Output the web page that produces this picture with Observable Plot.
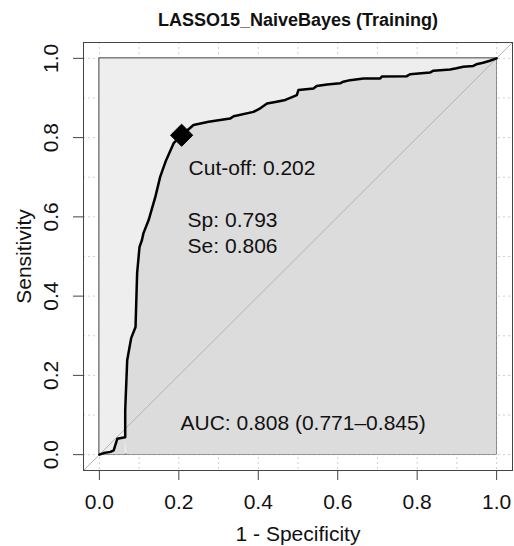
<!DOCTYPE html>
<html>
<head>
<meta charset="utf-8">
<script src="https://cdn.jsdelivr.net/npm/d3@7"></script>
<script src="https://cdn.jsdelivr.net/npm/@observablehq/plot@0.6"></script>
<style>
  html, body { margin: 0; padding: 0; background: #fff; }
  svg { display: block; }
</style>
</head>
<body>
<div id="chart"></div>
<script>
// ROC curve points: 1 - specificity (fpr) and sensitivity (tpr)
const fpr = [0, 0.011, 0.028, 0.036, 0.045, 0.065, 0.065, 0.070, 0.080, 0.091, 0.095, 0.101, 0.107, 0.111, 0.124, 0.141, 0.153, 0.168, 0.187, 0.207, 0.237, 0.275, 0.329, 0.338, 0.388, 0.405, 0.422, 0.443, 0.468, 0.485, 0.497, 0.501, 0.539, 0.547, 0.573, 0.606, 0.614, 0.631, 0.665, 0.707, 0.711, 0.774, 0.782, 0.832, 0.841, 0.883, 0.899, 0.916, 0.941, 0.949, 0.966, 0.983, 1];
const tpr = [0, 0.004, 0.007, 0.011, 0.040, 0.044, 0.112, 0.238, 0.294, 0.322, 0.458, 0.524, 0.541, 0.559, 0.592, 0.651, 0.701, 0.743, 0.786, 0.806, 0.832, 0.840, 0.848, 0.854, 0.865, 0.874, 0.886, 0.890, 0.895, 0.902, 0.907, 0.920, 0.924, 0.930, 0.934, 0.937, 0.941, 0.945, 0.949, 0.949, 0.954, 0.955, 0.960, 0.964, 0.969, 0.972, 0.975, 0.979, 0.981, 0.985, 0.989, 0.994, 1];

// Best threshold
const cutoff = 0.202;
const cutoffSp = 0.793;
const cutoffSe = 0.806;

// AUC and its confidence interval
const aucValue = 0.808;
const aucCI = [0.771, 0.845];

// Axis ticks and grid
const xTicks = [0, 0.2, 0.4, 0.6, 0.8, 1.0];
const yTicks = [0, 0.2, 0.4, 0.6, 0.8, 1.0];
const gridVals = [0, 0.1, 0.2, 0.3, 0.4, 0.5, 0.6, 0.7, 0.8, 0.9, 1.0];

const titleText = "LASSO15_NaiveBayes (Training)";
const xLabel = "1 - Specificity";
const yLabel = "Sensitivity";

const curve = fpr.map((x, i) => ({x, y: tpr[i]}));
const best = [{x: 1 - cutoffSp, y: cutoffSe}];
const lo = d3.min(fpr), hi = d3.max(fpr);
const pad = (hi - lo) * 0.04;
const dom = [lo - pad, hi + pad];
const maxPoly = [{x1: lo, x2: hi, y1: d3.min(tpr), y2: d3.max(tpr)}];
const identity = [{x: dom[0], y: dom[0]}, {x: dom[1], y: dom[1]}];

const font = "Liberation Sans, Arial, Helvetica, sans-serif";

const chart = Plot.plot({
  width: 514,
  height: 546,
  marginLeft: 83,
  marginRight: 2,
  marginTop: 42,
  marginBottom: 76,
  style: {fontFamily: font, background: "#fff", color: "#111"},
  x: {domain: dom, axis: null},
  y: {domain: dom, axis: null},
  marks: [
    Plot.ruleX(gridVals, {x: d => d, stroke: "#cfcfcf", strokeDasharray: "2,3"}),
    Plot.ruleY(gridVals, {y: d => d, stroke: "#cfcfcf", strokeDasharray: "2,3"}),
    Plot.rect(maxPoly, {x1: "x1", x2: "x2", y1: "y1", y2: "y2", fill: "#eeeeee", stroke: "#444", strokeWidth: 1}),
    Plot.areaY(curve, {x: "x", y: "y", fill: "#dcdcdc"}),
    Plot.line(identity, {x: "x", y: "y", stroke: "#b3b3b3", strokeWidth: 1, clip: true}),
    Plot.line(curve, {x: "x", y: "y", stroke: "#000", strokeWidth: 2.5}),
    Plot.dot(best, {x: "x", y: "y", symbol: "diamond2", r: 10, fill: "#000", stroke: "#000", strokeWidth: 1}),
    Plot.text(best, {x: "x", y: "y", text: () => `Cut-off: ${cutoff.toFixed(3)}`, dx: 7, dy: 33, textAnchor: "start", lineAnchor: "middle", fontSize: 21, fill: "#111"}),
    Plot.text(best, {x: "x", y: "y", text: () => `Sp: ${cutoffSp.toFixed(3)}`, dx: 6, dy: 85, textAnchor: "start", lineAnchor: "middle", fontSize: 21, fill: "#111"}),
    Plot.text(best, {x: "x", y: "y", text: () => `Se: ${cutoffSe.toFixed(3)}`, dx: 6, dy: 111.5, textAnchor: "start", lineAnchor: "middle", fontSize: 21, fill: "#111"}),
    Plot.text([aucValue], {frameAnchor: "bottom-left", dx: 97, dy: -47, text: d => `AUC: ${d.toFixed(3)} (${aucCI[0].toFixed(3)}\u2013${aucCI[1].toFixed(3)})`, textAnchor: "start", lineAnchor: "middle", fontSize: 21, fill: "#111"}),
    Plot.frame({stroke: "#444", strokeWidth: 1}),
    // axes
    Plot.axisX(xTicks, {tickSize: 10, fill: "none", stroke: "#444", label: null}),
    Plot.axisY(yTicks, {tickSize: 10, fill: "none", stroke: "#444", label: null}),
    Plot.text(xTicks, {x: d => d, frameAnchor: "bottom", text: d => d.toFixed(1), dy: 32, lineAnchor: "middle", fontSize: 21, fill: "#111"}),
    Plot.text(yTicks, {y: d => d, frameAnchor: "left", text: d => d.toFixed(1), dx: -32, rotate: -90, textAnchor: "middle", lineAnchor: "middle", fontSize: 21, fill: "#111"}),
    Plot.text([xLabel], {frameAnchor: "bottom", text: d => d, dy: 64, lineAnchor: "middle", fontSize: 21, fill: "#111"}),
    Plot.text([yLabel], {frameAnchor: "left", text: d => d, dx: -59, rotate: -90, textAnchor: "middle", lineAnchor: "middle", fontSize: 21, fill: "#111"}),
    Plot.text([titleText], {frameAnchor: "top", text: d => d, dy: -22, lineAnchor: "middle", fontSize: 18, fontWeight: "bold", fill: "#111"})
  ]
});
document.getElementById("chart").appendChild(chart);
</script>
</body>
</html>
